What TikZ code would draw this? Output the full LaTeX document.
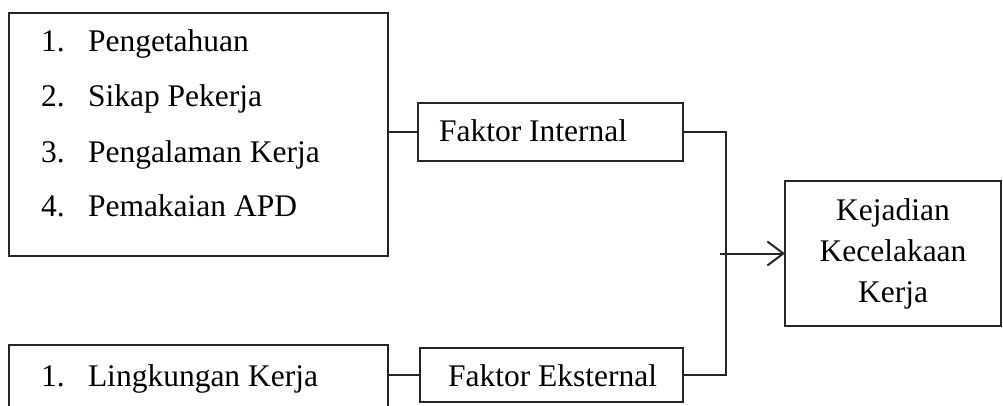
\documentclass[tikz,border=0pt]{standalone}
\usepackage{fontspec}
\setmainfont{Liberation Serif}
\usetikzlibrary{arrows.meta}
\begin{document}
\begin{tikzpicture}[x=1pt,y=-1pt,
  line width=2pt,
  boxnode/.style={draw=black!85, line width=2pt, rectangle, inner sep=0pt, outer sep=0pt},
  txt/.style={anchor=base west, inner sep=0pt, font=\fontsize{31.5}{38}\selectfont},
  conn/.style={draw=black!85, line width=2pt, line join=miter}]
\clip (0,0) rectangle (1003,406);
\fill[white] (0,0) rectangle (1003,406);
% boxes
\node[boxnode, minimum width=379pt, minimum height=243pt] (big) at (198.5,134.5) {};
\node[boxnode, minimum width=265pt, minimum height=58pt] (int) at (550.5,132.5) {};
\node[boxnode, minimum width=263pt, minimum height=54pt] (ext) at (551.5,375) {};
\node[boxnode, minimum width=379pt, minimum height=110pt] (low) at (198.5,400) {};
\node[boxnode, minimum width=216pt, minimum height=145pt, align=center,
      font=\fontsize{31.5}{41}\selectfont] (kej) at (893,253.5)
      {Kejadian\\Kecelakaan\\Kerja};
% list texts
\node[txt] (n1) at (40,52) {1.};
\node[txt] (t1) at (87,52) {Pengetahuan};
\node[txt] (n2) at (40,107) {2.};
\node[txt] (t2) at (87,107) {Sikap Pekerja};
\node[txt] (n3) at (40,163) {3.};
\node[txt] (t3) at (87,163) {Pengalaman Kerja};
\node[txt] (n4) at (40,216) {4.};
\node[txt] (t4) at (87,216) {Pemakaian APD};
\node[txt] (n5) at (40,386) {1.};
\node[txt] (t5) at (87,386) {Lingkungan Kerja};
\node[txt] (ti) at (438,142) {Faktor Internal};
\node[txt] (te) at (447,386) {Faktor Eksternal};
% connectors
\coordinate (j) at (726,0);
\coordinate (a) at (720,0);
\draw[conn] (int.west) -- (int.west -| big.east);
\draw[conn] (ext.west) -- (ext.west -| low.east);
\draw[conn] (int.east) -- (int.east -| j) -- (ext.east -| j) -- (ext.east);
\draw[conn, -{Straight Barb[length=16pt, width=24pt, line width=2pt]}] (a |- kej.west) -- (kej.west);
\end{tikzpicture}
\end{document}
